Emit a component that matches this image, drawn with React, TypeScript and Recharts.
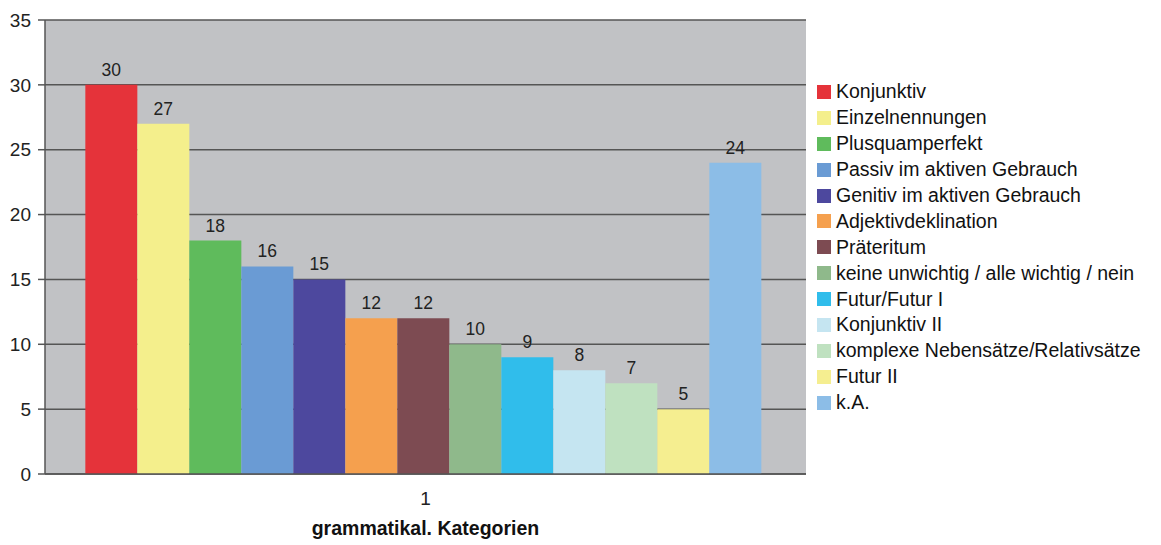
import React from 'react'
import { BarChart, Bar, XAxis, YAxis, CartesianGrid, Legend, LabelList } from 'recharts'

const categories = ['1']

const seriesNames = [
  'Konjunktiv',
  'Einzelnennungen',
  'Plusquamperfekt',
  'Passiv im aktiven Gebrauch',
  'Genitiv im aktiven Gebrauch',
  'Adjektivdeklination',
  'Präteritum',
  'keine unwichtig / alle wichtig / nein',
  'Futur/Futur I',
  'Konjunktiv II',
  'komplexe Nebensätze/Relativsätze',
  'Futur II',
  'k.A.',
]

const seriesValues = [30, 27, 18, 16, 15, 12, 12, 10, 9, 8, 7, 5, 24]

const seriesColors = [
  '#e5333a',
  '#f4ef8c',
  '#5fbb5c',
  '#6a9bd4',
  '#4d489e',
  '#f5a04e',
  '#7d4b52',
  '#8fb98b',
  '#30bdeb',
  '#c5e5f1',
  '#bfe1c0',
  '#f5ee90',
  '#8cbde7',
]

const yTicks = [0, 5, 10, 15, 20, 25, 30, 35]

const chartData = categories.map((cat) => {
  const row: Record<string, string | number> = { name: cat }
  seriesNames.forEach((_, i) => {
    row[`s${i}`] = seriesValues[i]
  })
  return row
})

const FONT = 'Arial, "Liberation Sans", sans-serif'

// legend keeps the series order instead of recharts' default sorting
const LegendList = () => (
  <div style={{ fontFamily: FONT, fontSize: 19.5, color: '#111', whiteSpace: 'nowrap', overflow: 'hidden' }}>
    {seriesNames.map((name, index) => (
      <div key={name} style={{ display: 'flex', alignItems: 'center', height: 25.9 }}>
        <span style={{ width: 14, height: 14, background: seriesColors[index], marginRight: 5, flexShrink: 0 }} />
        <span>{name}</span>
      </div>
    ))}
  </div>
)

const App: React.FC = () => {
  return (
    <div style={{ position: 'absolute', left: 0, top: 0, width: 1161, height: 545, overflow: 'hidden', background: '#fff' }}>
      <BarChart
        width={1161}
        height={545}
        data={chartData}
        margin={{ top: 20, right: 355, left: 0, bottom: 0 }}
        barGap={0}
        barCategoryGap="5.3%"
      >
        <CartesianGrid vertical={false} fill="#c1c2c5" stroke="#555" strokeWidth={1.5} fillOpacity={1} />
        <XAxis
          dataKey="name"
          height={71}
          stroke="#555"
          strokeWidth={1.5}
          tickLine={false}
          tickMargin={12}
          tick={{ fontSize: 19, fill: '#222', fontFamily: FONT }}
          label={{
            value: 'grammatikal. Kategorien',
            position: 'insideBottom',
            offset: 10,
            fontSize: 19.5,
            fontWeight: 'bold',
            fill: '#111',
            fontFamily: FONT,
          }}
        />
        <YAxis
          width={45}
          domain={[0, 35]}
          ticks={yTicks}
          interval={0}
          stroke="#555"
          strokeWidth={1.5}
          tickSize={7}
          tickMargin={7}
          tick={{ fontSize: 19, fill: '#222', fontFamily: FONT }}
        />
        <Legend
          layout="horizontal"
          verticalAlign="middle"
          align="center"
          content={<LegendList />}
          wrapperStyle={{ position: 'absolute', left: 817, top: 79, width: 344, height: 340 }}
        />
        {seriesNames.map((name, i) => (
          <Bar key={name} dataKey={`s${i}`} name={name} fill={seriesColors[i]} isAnimationActive={false}>
            <LabelList
              dataKey={`s${i}`}
              position="top"
              offset={9}
              fontSize={17.5}
              fill="#222"
              fontFamily={FONT}
            />
          </Bar>
        ))}
      </BarChart>
    </div>
  )
}

export default App
